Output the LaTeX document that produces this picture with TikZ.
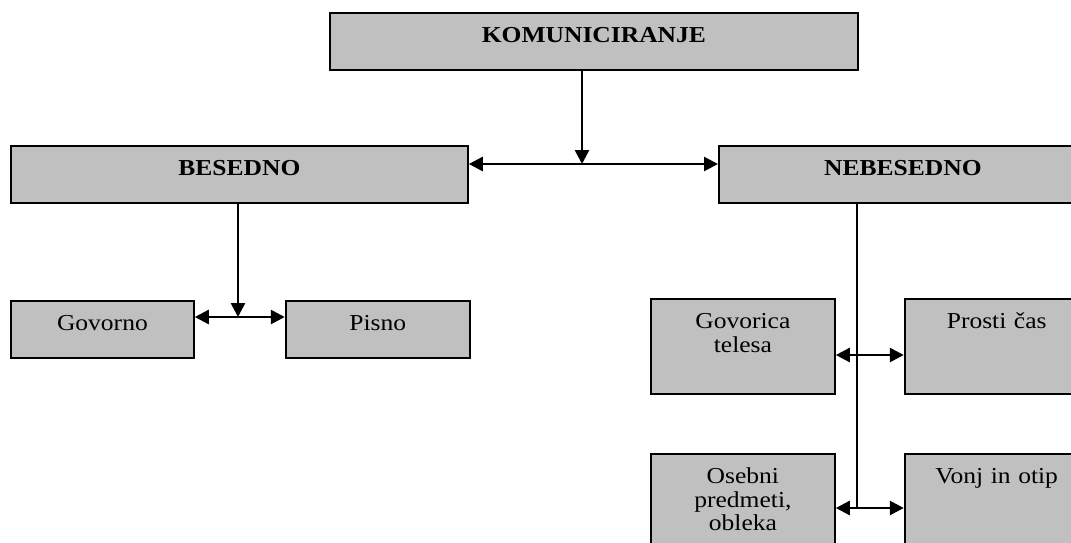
\documentclass[tikz,border=0pt]{standalone}
\usepackage{fontspec}
\setmainfont[FakeStretch=1.12]{Liberation Serif}
\usepackage{xcolor}
\definecolor{BoxGray}{RGB}{192,192,192}
\usetikzlibrary{positioning, arrows.meta}

\begin{document}
\begin{tikzpicture}[
    x=0.5pt, y=-0.5pt,
    box/.style={rectangle, draw, line width=0.9pt, fill=BoxGray, inner xsep=0pt, inner ysep=0pt, align=center, text height=15pt, text depth=13.5pt, anchor=north west, font=\fontsize{11.4}{11.7}\selectfont},
    tallbox/.style={box, text depth=32.5pt},
    arrow/.style={-{Triangle[length=7pt, width=7pt]}, line width=1.3pt},
    dblarrow/.style={{Triangle[length=7pt, width=7pt]}-{Triangle[length=7pt, width=7pt]}, line width=1.3pt},
]
\useasboundingbox (0,0) rectangle (1071,542);
\clip (0,0) rectangle (1071,542);

% Top
\node[box, text width=264pt] (kom) at (329,12) {\bfseries KOMUNICIRANJE};

% Second level
\node[box, text width=228.5pt] (besedno) at (10,145) {\bfseries BESEDNO};
\node[box, text width=184pt] (nebesedno) at (718,145) {\bfseries NEBESEDNO};

% Besedno
\node[box, text width=91.5pt, below right=48pt and 0pt of besedno.south west] (govorno) {Govorno};
\node[box, text width=92pt, right=45pt of govorno] (pisno) {Pisno};

% Nebesedno
\node[tallbox, text width=92pt] (govorica) at (650,298) {Govorica\\telesa};
\node[tallbox, text width=92pt, right=34pt of govorica] (prosti) {Prosti čas};
\node[tallbox, text depth=40pt, text width=92pt, below=29pt of govorica] (osebni) {Osebni\\predmeti,\\obleka};
\node[tallbox, text depth=40pt, text width=92pt, right=34pt of osebni] (vonj) {Vonj in otip};

% Junctions
\coordinate (j1) at (582,164);
\coordinate (j2) at (238,317);
\coordinate (j3) at (857,355);
\coordinate (j4) at (857,508);

% Arrows
\draw[arrow] (kom.south -| j1) -- (j1);
\draw[dblarrow] (besedno.east |- j1) -- (nebesedno.west |- j1);
\draw[arrow] (besedno.south -| j2) -- (j2);
\draw[dblarrow] (govorno.east |- j2) -- (pisno.west |- j2);
\draw[line width=1.1pt] (nebesedno.south -| j4) -- (j4);
\draw[dblarrow] (govorica.east |- j3) -- (prosti.west |- j3);
\draw[dblarrow] (osebni.east |- j4) -- (vonj.west |- j4);

\end{tikzpicture}
\end{document}
